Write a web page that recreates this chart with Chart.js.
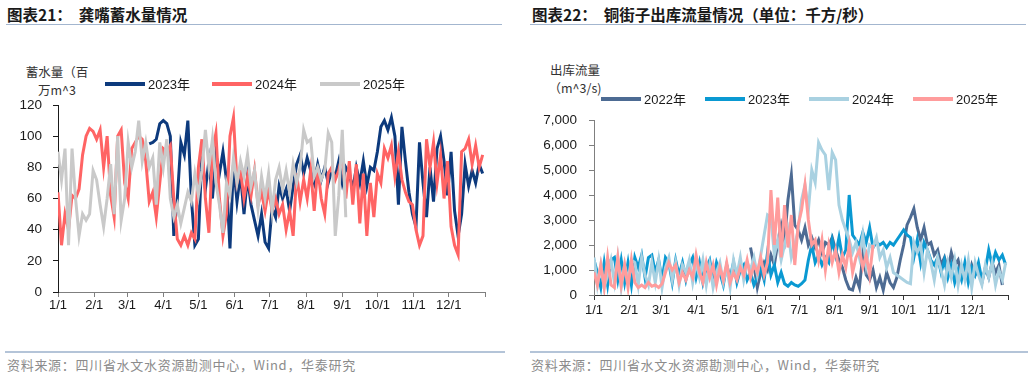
<!DOCTYPE html>
<html>
<head>
<meta charset="utf-8">
<script src="https://cdn.jsdelivr.net/npm/chart.js@4.4.1/dist/chart.umd.min.js"></script>
<style>
  body { margin: 0; width: 1031px; height: 379px; background: #fff; position: relative; overflow: hidden; font-family: "Noto Sans CJK SC", sans-serif; }
  .title { position: absolute; top: 4px; font-size: 15.5px; font-weight: bold; color: #1a1a1a; white-space: nowrap; line-height: 20px; }
  .rule { position: absolute; height: 1px; background: #a3b6cf; }
  .src { position: absolute; top: 357px; font-size: 13px; letter-spacing: 0.7px; color: #8c8c8c; white-space: nowrap; line-height: 16px; }
  .ytitle { position: absolute; font-size: 12.5px; color: #333; line-height: 18px; white-space: nowrap; text-align: center; }
  canvas { position: absolute; }
</style>
</head>
<body>
<div class="title" style="left:7px">图表21：&nbsp; 龚嘴蓄水量情况</div>
<div class="title" style="left:532px">图表22：&nbsp; 铜街子出库流量情况（单位：千方/秒）</div>
<div class="rule" style="left:6px;top:24px;width:496px"></div>
<div class="rule" style="left:530px;top:24px;width:496px"></div>

<div class="ytitle" style="left:20px;top:63px;width:74px">蓄水量（百<br>万m^3</div>
<div class="ytitle" style="left:544px;top:61px;width:62px">出库流量<br>（m^3/s)</div>

<canvas id="gongzui" width="515" height="260" style="left:0;top:60px"></canvas>
<canvas id="tongjiezi" width="516" height="265" style="left:515px;top:60px"></canvas>

<div class="rule" style="left:5px;top:351px;width:500px;height:2px;background:#b4c4d8"></div>
<div class="rule" style="left:530px;top:351px;width:498px;height:2px;background:#b4c4d8"></div>
<div class="src" style="left:7px">资料来源：四川省水文水资源勘测中心，Wind，华泰研究</div>
<div class="src" style="left:531px">资料来源：四川省水文水资源勘测中心，Wind，华泰研究</div>

<script>
// x轴：一年中的天数，每隔 STEP 天取一个读数
const STEP = 3;
const monthStarts = [0, 31, 59, 90, 120, 151, 181, 212, 243, 273, 304, 334];
const monthLabels = ["1/1", "2/1", "3/1", "4/1", "5/1", "6/1", "7/1", "8/1", "9/1", "10/1", "11/1", "12/1"];
const yearEnd = 365;

// 龚嘴蓄水量（百万m^3）
const gzYears = ["2023年", "2024年", "2025年"];
const gz2023Start = 78;
const gz2023 = [
  95, 96, 98, 108, 110, 108, 100, 36, 60, 96,
  88, 110, 60, 30, 34, 88, 66, 84, 60, 88,
  76, 90, 72, 28, 82, 58, 76, 50, 74, 56,
  46, 36, 50, 32, 28, 54, 48, 68, 60, 66,
  52, 68, 82, 88, 76, 86, 78, 70, 82, 72,
  80, 70, 78, 74, 84, 70, 80, 76, 66, 80,
  70, 84, 68, 80, 78, 90, 106, 110, 104, 112,
  100, 56, 106, 84, 64, 50, 42, 96, 70, 48,
  80, 58, 92, 100, 84, 62, 90, 52, 36, 50,
  82, 68, 78, 70, 82, 76
];
const gz2024 = [
  64, 30, 50, 40, 62, 60, 66, 88, 100, 105,
  103, 98, 104, 80, 100, 62, 48, 100, 104, 70,
  60, 92, 96, 100, 98, 84, 58, 64, 48, 70,
  92, 90, 94, 60, 34, 30, 36, 30, 38, 34,
  80, 98, 60, 38, 90, 102, 60, 36, 50, 100,
  112, 70, 78, 60, 74, 62, 78, 56, 64, 52,
  66, 52, 60, 50, 56, 40, 52, 36, 76, 58,
  72, 60, 78, 52, 80, 60, 50, 76, 80, 72,
  78, 88, 60, 84, 56, 82, 44, 76, 36, 70,
  48, 76, 70, 92, 86, 94, 74, 90, 72, 64,
  58, 56, 40, 30, 36, 98, 80, 96, 70, 88,
  60, 84, 42, 30, 24, 90, 92, 98, 82, 94,
  80, 88
];
const gz2025 = [
  90, 72, 92, 30, 92, 60, 36, 50, 46, 50,
  78, 72, 56, 42, 60, 82, 50, 100, 46, 60,
  96, 80, 90, 110, 84, 96, 80, 86, 56, 96,
  80, 98, 60, 48, 56, 44, 54, 64, 58, 76,
  62, 78, 104, 80, 98, 70, 56, 38, 70, 62,
  86, 70, 84, 74, 88, 68, 78, 54, 74, 60,
  76, 52, 72, 80, 66, 78, 64, 82, 70, 80,
  104, 96, 98, 74, 80, 72, 78, 102, 96, 36,
  62, 104, 48
];
const gzTicks = [0, 20, 40, 60, 80, 100, 120];

// 铜街子出库流量（m^3/s）
const tjzYears = ["2022年", "2023年", "2024年", "2025年"];
const tjz2022Start = 138;
const tjz2022 = [
  1900, 1200, 300, 900, 1300, 1000, 1600, 1200, 2100, 2800,
  2200, 3800, 4800, 2800, 2600, 2200, 2700, 2000, 2300, 1900,
  2200, 1700, 2100, 2000, 2300, 1800, 1400, 1100, 600, 250,
  200, 700, 300, 1600, 800, 600, 1000, 300, 700, 200,
  900, 500, 300, 700, 1400, 2000, 2800, 3100, 3450, 2700,
  2200, 2700, 2000, 2100, 1600, 1800, 1200, 1500, 1000, 1700,
  1200, 1400, 800, 1100, 600, 1200, 800, 1000, 500, 1100,
  700, 1300, 900, 1200, 400
];
const tjz2023 = [
  1400, 900, 300, 1300, 400, 1400, 1500, 600, 1400, 500,
  1300, 400, 1500, 1100, 1600, 700, 1500, 1600, 900, 1400,
  600, 1500, 1300, 500, 1400, 800, 1300, 600, 1200, 1500,
  700, 1300, 500, 1100, 1400, 600, 1300, 900, 400, 1200,
  700, 1300, 500, 1000, 1200, 600, 900, 400, 700, 1100,
  600, 1700, 800, 1200, 500, 900, 450, 350, 500, 400,
  350, 450, 600, 1400, 2000, 1300, 1600, 1200, 1500, 1300,
  2200, 1600, 2300, 1500, 1800, 4000, 2400, 2200, 2000, 2500,
  2100, 2700, 1900, 2100, 2000, 2100, 1900, 2100, 2000, 2200,
  2400, 2600, 2400, 2300, 1500, 2200, 1300, 2100, 1800, 1400,
  1200, 1500, 900, 1400, 700, 1200, 500, 1000, 600, 1300,
  500, 1100, 800, 1300, 600, 1000, 1800, 1200, 1700, 1400,
  1600, 1200
];
const tjz2024 = [
  1500, 400, 1200, 300, 800, 1400, 500, 1500, 300, 1200,
  600, 1400, 1300, 400, 1500, 800, 400, 1300, 500, 1400,
  300, 1100, 1500, 600, 1300, 400, 1200, 900, 1400, 500,
  1300, 700, 1400, 400, 1200, 300, 900, 1300, 500, 1100,
  300, 1400, 800, 1500, 600, 1300, 1000, 1500, 800, 1600,
  2400, 3200, 3100, 1600, 2200, 1400, 2000, 2600, 1500, 2000,
  2600, 3800, 4400, 3400, 5000, 4500, 6100, 5800, 5600, 4200,
  5700, 5400, 3600, 3000, 2600, 2200, 1700, 2100, 1500, 2400,
  1200, 2000, 1900, 2300, 1500, 1800, 1100, 1500, 900, 800,
  700, 600, 500, 450, 2100, 1700, 2000, 900, 1800, 1300,
  600, 1500, 1000, 400, 1300, 700, 1400, 400, 1200, 600,
  1400, 300, 1300, 800, 400, 1200, 700, 1300, 400, 1000,
  600, 1300
];
const tjz2025 = [
  900, 400, 1200, 300, 1500, 400, 300, 1500, 400, 1200,
  300, 1400, 500, 300, 400, 300, 500, 350, 400, 300,
  450, 900, 1300, 1000, 1200, 500, 900, 600, 1000, 700,
  1600, 900, 500, 1300, 700, 1200, 400, 1100, 600, 1300,
  500, 900, 600, 1100, 800, 1400, 700, 1200, 900, 1500,
  800, 1300, 4200, 2000, 3900, 1500, 3600, 1900, 3200, 1200,
  2800, 3400, 4400, 3000, 2000, 2200, 1400, 2200, 1000, 2000,
  1300, 1800, 900, 1600, 1100, 2000, 900, 1500, 1800, 1100,
  1600, 800, 2000
];
const tjzTicks = [0, 1000, 2000, 3000, 4000, 5000, 6000, 7000];

function toPoints(values, startDay = 0) {
  return values.map((v, i) => ({ x: startDay + i * STEP, y: v }));
}

// 图例画成一行，位置跟原图对齐
const rowLegend = {
  id: "rowLegend",
  afterDraw(chart, args, opts) {
    const ctx = chart.ctx;
    ctx.save();
    ctx.font = '13px "Liberation Sans", "Noto Sans CJK SC", sans-serif';
    ctx.textBaseline = "middle";
    chart.data.datasets.forEach((ds, i) => {
      const x = opts.xs[i];
      ctx.strokeStyle = ds.borderColor;
      ctx.lineWidth = 4;
      ctx.beginPath();
      ctx.moveTo(x, opts.y);
      ctx.lineTo(x + 40, opts.y);
      ctx.stroke();
      ctx.fillStyle = "#1a1a1a";
      ctx.fillText(ds.label, x + 43, opts.y + 1);
    });
    ctx.restore();
  },
};

function xAxis(axisColor, pad) {
  return {
    type: "linear",
    min: 0,
    max: yearEnd,
    afterBuildTicks: (scale) => {
      scale.ticks = monthStarts.concat([yearEnd]).map((v) => ({ value: v }));
    },
    afterFit: (scale) => { scale.height = pad.h; },
    ticks: {
      autoSkip: false,
      maxRotation: 0,
      padding: pad.p,
      color: "#1a1a1a",
      font: { family: '"Liberation Sans Narrow", "Liberation Sans", sans-serif', size: 13 },
      callback: (v, i) => monthLabels[i] || "",
    },
    grid: { drawOnChartArea: false, drawTicks: true, tickLength: 5, color: axisColor },
    border: { display: true, color: axisColor, width: 1 },
  };
}

function yAxis(ticksList, width, pad, axisColor, fmt) {
  return {
    min: ticksList[0],
    max: ticksList[ticksList.length - 1],
    afterBuildTicks: (scale) => {
      scale.ticks = ticksList.map((v) => ({ value: v }));
    },
    afterFit: (scale) => { scale.width = width; },
    ticks: {
      padding: pad,
      color: "#1a1a1a",
      font: { family: '"Liberation Sans", sans-serif', size: 13.5 },
      callback: fmt,
    },
    grid: { drawOnChartArea: false, drawTicks: true, tickLength: 5, color: axisColor },
    border: { display: true, color: axisColor, width: 1 },
  };
}

function lineSet(label, data, color, order) {
  return {
    label: label,
    data: data,
    borderColor: color,
    backgroundColor: color,
    borderWidth: 3,
    pointRadius: 0,
    tension: 0,
    order: order,
  };
}

new Chart(document.getElementById("gongzui"), {
  type: "line",
  data: {
    datasets: [
      lineSet(gzYears[0], toPoints(gz2023, gz2023Start), "#0d3a7d", 2),
      lineSet(gzYears[1], toPoints(gz2024), "#ff6464", 1),
      lineSet(gzYears[2], toPoints(gz2025), "#c9c9c9", 0),
    ],
  },
  options: {
    responsive: false,
    animation: false,
    layout: { padding: { top: 45, right: 30, left: 0, bottom: 0 } },
    plugins: {
      legend: { display: false },
      tooltip: { enabled: false },
      rowLegend: { xs: [105, 212, 320], y: 24 },
    },
    scales: {
      x: xAxis("#7f7f7f", { h: 28, p: 1 }),
      y: yAxis(gzTicks, 58, 11, "#1a1a1a", (v) => v),
    },
  },
  plugins: [rowLegend],
});

new Chart(document.getElementById("tongjiezi"), {
  type: "line",
  data: {
    datasets: [
      lineSet(tjzYears[0], toPoints(tjz2022, tjz2022Start), "#4d6b93", 3),
      lineSet(tjzYears[1], toPoints(tjz2023), "#0a99d2", 2),
      lineSet(tjzYears[2], toPoints(tjz2024), "#a9d1e1", 1),
      lineSet(tjzYears[3], toPoints(tjz2025), "#ff9c9c", 0),
    ],
  },
  options: {
    responsive: false,
    animation: false,
    layout: { padding: { top: 60, right: 23, left: 0, bottom: 0 } },
    plugins: {
      legend: { display: false },
      tooltip: { enabled: false },
      rowLegend: { xs: [86, 190, 294, 398], y: 39 },
    },
    scales: {
      x: xAxis("#333333", { h: 30, p: 3 }),
      y: yAxis(tjzTicks, 79, 12, "#7f7f7f", (v) => v.toLocaleString("en-US")),
    },
  },
  plugins: [rowLegend],
});
</script>
</body>
</html>
